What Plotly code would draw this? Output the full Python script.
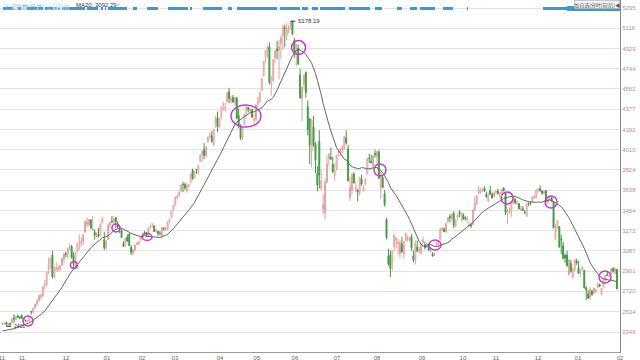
import plotly.graph_objects as go
import pandas as pd

# ---------------- DATA ----------------
# closes of the 19 sessions before the first candle (for the MA20 warm-up)
warmup_closes = [2364, 2382, 2389, 2374, 2366, 2359, 2373, 2356, 2341, 2357,
                 2340, 2327, 2302, 2302, 2290, 2337, 2373, 2392, 2420]

opens = [
 2420,2428,2433,2413,2426,2433,2478,2466,2492,2485,2500,2472,2454,2442,2452,2537,2528,2567,2610,2635,
 2670,2677,2770,2778,2925,2946,3051,2850,2915,2923,2920,2957,3010,3061,3058,3118,3129,3043,2950,3081,3166,3160,3172,
 3258,3330,3326,3371,3276,3259,3223,3242,3228,3343,3189,3114,3189,3323,3357,3356,3390,3330,3264,3273,
 3154,3142,3213,3243,3121,3064,3096,3147,3152,3203,3208,3255,3256,3224,3300,
 3332,3317,3264,3265,3248,3224,3292,3287,3285,3354,3391,3465,3503,3577,3594,3640,3696,3692,3631,3675,3710,3822,
 3748,3827,3803,3899,3963,4010,3948,4085,4124,4135,4054,4232,4301,4218,4305,4412,4386,4442,4537,4455,4483,
 4436,4478,4320,4214,4121,4237,4340,4391,4364,4372,4275,4285,4431,4449,4548,4680,4855,4905,4943,4603,
 4633,4844,4924,4912,4973,5045,5114,5050,5101,5144,5175,5004,4891,4930,4689,4471,4604,4711,4399,4289,3997,
 4214,4058,3794,4085,3654,3467,3433,3707,3924,3940,3875,3773,3842,3976,3979,4004,4013,4118,4016,3573,3638,3786,3643,
 3643,3615,3743,3633,3695,3786,3931,3903,3856,3976,3951,3986,3655,3754,3609,3373,3043,3050,2979,3125,3182,
 3157,3060,3149,3054,3185,3193,3189,3215,3041,2996,3123,3096,3070,3162,3146,3117,3152,3096,3060,3052,
 3144,3141,3194,3272,3284,3257,3357,3404,3384,3429,3310,3388,3440,3413,3413,3388,3375,
 3325,3322,3325,3459,3514,3614,3623,3645,3657,3600,3541,3634,3606,3582,3620,3631,3602,3614,3659,3616,3435,
 3442,3450,3525,3558,3526,3518,3460,3469,3441,3403,3510,3521,3536,3567,3576,3640,3653,3631,3609,3634,3528,3567,3570,
 3536,3196,3292,3309,3194,3134,3046,3050,2868,2974,2843,2915,2993,2934,2904,2919,2911,2747,2698,2656,
 2726,2700,2716,2751,2782,2688,2757,2823,2874,2855,2874,2927,2889,2918]

highs = [
 2434,2434,2445,2428,2437,2479,2512,2495,2509,2494,2508,2478,2461,2460,2490,2540,2568,2605,2650,2684,
 2700,2764,2822,2900,3027,3021,3091,2944,2986,2950,2955,3022,3067,3080,3119,3154,3139,3074,3075,3158,3239,3211,3239,
 3369,3394,3375,3373,3404,3283,3260,3296,3337,3400,3262,3190,3337,3357,3406,3384,3399,3358,3297,3288,
 3176,3205,3238,3244,3140,3105,3141,3165,3178,3229,3250,3269,3259,3300,3326,
 3336,3318,3286,3266,3267,3308,3305,3308,3356,3384,3449,3507,3578,3600,3633,3688,3716,3709,3705,3700,3795,3835,
 3817,3835,3865,3961,4000,4069,4035,4128,4168,4177,4195,4317,4356,4294,4398,4444,4432,4529,4572,4500,4507,
 4489,4488,4384,4241,4205,4333,4402,4402,4390,4383,4330,4417,4488,4529,4658,4814,4911,4958,4986,4682,
 4829,4911,4999,5006,5051,5147,5147,5164,5143,5178,5176,5029,4968,4967,4744,4577,4691,4720,4456,4297,4287,
 4318,4080,3859,4185,3819,3601,3749,3959,3976,4030,3944,3886,3960,4006,4022,4049,4132,4184,4053,3758,3789,3807,3717,
 3643,3757,3782,3685,3750,3934,3970,3960,3955,4008,3994,4006,3811,3774,3641,3388,3107,3092,3085,3233,3207,
 3202,3183,3217,3174,3256,3228,3218,3239,3094,3182,3183,3128,3156,3218,3168,3155,3155,3103,3077,3073,
 3172,3184,3294,3305,3303,3339,3391,3421,3425,3447,3370,3430,3457,3443,3430,3403,3405,
 3350,3336,3461,3586,3596,3678,3660,3654,3676,3628,3607,3679,3617,3617,3640,3654,3617,3647,3668,3621,3470,
 3483,3538,3585,3568,3548,3519,3498,3496,3459,3521,3530,3539,3583,3598,3644,3653,3684,3640,3637,3641,3563,3573,3581,
 3538,3328,3362,3309,3235,3172,3060,3088,3007,3006,2936,3010,3017,2999,2917,2948,2913,2767,2733,2760,
 2726,2750,2741,2797,2790,2746,2837,2868,2898,2870,2927,2939,2929,2923]

lows = [
 2411,2413,2401,2408,2410,2432,2432,2455,2478,2465,2468,2452,2441,2439,2441,2508,2519,2561,2586,2622,
 2641,2662,2736,2768,2875,2921,2834,2840,2900,2896,2910,2955,2976,3030,3015,3093,3017,2931,2940,3074,3095,3124,3140,
 3253,3303,3312,3285,3267,3191,3208,3208,3219,3337,3095,3100,3188,3294,3340,3322,3298,3294,3250,3209,
 3123,3124,3172,3134,3050,3049,3083,3136,3141,3179,3200,3241,3215,3217,3290,
 3298,3260,3250,3224,3234,3198,3273,3267,3276,3339,3385,3448,3495,3557,3576,3623,3622,3643,3617,3658,3705,3733,
 3743,3787,3787,3899,3900,3922,3941,4068,4109,4070,4040,4207,4167,4211,4285,4369,4355,4442,4432,4427,4437,
 4410,4286,4203,4099,4097,4237,4316,4352,4345,4297,4238,4270,4397,4431,4542,4677,4798,4846,4604,4500,
 4633,4798,4833,4648,4836,4915,4941,5005,5065,5103,5048,4846,4767,4780,4476,4265,4552,4483,4139,3876,3847,
 4033,3795,3629,3654,3640,3421,3373,3707,3862,3915,3799,3726,3819,3946,3951,3974,4009,4055,3720,3538,3600,3701,3620,
 3537,3591,3680,3628,3683,3782,3887,3887,3847,3935,3883,3743,3558,3661,3490,3191,2953,2850,2906,3085,3108,
 3053,3019,3066,3011,3172,3168,3173,3090,2983,2963,3074,3060,3053,3162,3102,3115,3087,3068,3038,3039,
 3123,3134,3182,3264,3257,3255,3339,3348,3364,3293,3302,3368,3394,3352,3370,3363,3342,
 3299,3296,3325,3455,3504,3600,3610,3626,3625,3570,3531,3600,3565,3574,3601,3598,3569,3606,3629,3412,3327,
 3421,3395,3510,3511,3505,3466,3448,3450,3422,3397,3495,3504,3536,3560,3566,3617,3626,3599,3607,3532,3516,3538,3538,
 3295,3189,3288,3115,3057,3016,2979,2949,2867,2889,2836,2903,2960,2880,2852,2910,2744,2638,2653,2642,
 2680,2699,2706,2751,2763,2683,2757,2810,2860,2843,2874,2891,2874,2738]

closes = [
 2430,2430,2419,2425,2418,2473,2469,2495,2485,2478,2474,2456,2450,2452,2487,2532,2567,2604,2630,2683,
 2680,2763,2779,2899,2938,3020,2856,2940,2925,2938,2953,3021,3061,3057,3108,3128,3032,2968,3072,3157,3169,3166,3235,
 3351,3352,3374,3294,3285,3229,3235,3222,3336,3376,3116,3173,3323,3343,3351,3383,3352,3305,3262,3210,
 3128,3204,3174,3136,3076,3095,3141,3157,3173,3203,3247,3246,3229,3298,3310,
 3336,3263,3280,3248,3241,3302,3286,3290,3349,3373,3449,3503,3577,3582,3617,3687,3692,3660,3682,3691,3786,3748,
 3810,3825,3863,3961,3994,3957,4034,4121,4135,4084,4194,4287,4217,4293,4398,4414,4393,4527,4476,4476,4441,
 4480,4298,4229,4112,4205,4333,4401,4375,4378,4308,4283,4417,4446,4529,4657,4813,4910,4941,4620,4611,
 4828,4910,4909,4947,5023,5131,5113,5106,5121,5166,5062,4887,4967,4786,4478,4577,4691,4527,4193,4053,4277,
 4054,3912,3687,3776,3727,3507,3710,3878,3970,3924,3805,3823,3958,3992,4017,4027,4124,4071,3726,3663,3789,3705,3664,
 3623,3757,3695,3661,3744,3928,3928,3887,3955,3965,3993,3748,3794,3665,3508,3210,2965,2927,3084,3232,3206,
 3166,3160,3080,3171,3243,3198,3200,3114,3005,3152,3086,3098,3156,3186,3116,3142,3093,3101,3039,3053,
 3144,3183,3288,3294,3263,3338,3391,3387,3425,3320,3369,3412,3430,3434,3375,3387,3383,
 3326,3316,3460,3522,3590,3646,3640,3650,3632,3580,3607,3604,3568,3617,3630,3610,3616,3647,3635,3436,3445,
 3456,3537,3584,3525,3536,3470,3472,3455,3434,3521,3510,3516,3580,3578,3642,3651,3636,3612,3627,3533,3563,3573,3539,
 3297,3288,3361,3125,3186,3017,3022,2949,3007,2901,2913,3008,2977,2881,2916,2938,2750,2735,2656,2738,
 2689,2750,2739,2782,2763,2746,2836,2867,2863,2860,2927,2903,2928,2742]

month_labels = ["11", "11", "12", "01", "02", "03", "04", "05", "06", "07",
                "08", "09", "10", "11", "12", "01", "02"]
price_labels = [2349, 2534, 2720, 2901, 3087, 3272, 3454, 3638, 3824, 4010,
                4192, 4377, 4562, 4744, 4929, 5116, 5295]

# highlighted points on the MA line (session index, price)
mark_days = [13.3, 37.2, 59.1, 75.3, 126.8, 154.2, 196.6, 225.3, 262.8, 285.7, 313.8]
mark_prices = [2449, 2959, 3296, 3214, 4315, 4938, 3823, 3141, 3569, 3532, 2850]

peak_day, peak_price, peak_text = 150, 5178.19, "5178.19"
low_day, low_price, low_text = 2, 2401, "2401"

# ---------------- LAYOUT / STYLE ----------------
month_tick_pos = [-0.3, 10.2, 33.1, 54.4, 72.7, 89.8, 113.3, 132.5, 152.3, 174.2,
                  195.1, 218.5, 239.8, 257.0, 278.9, 299.7, 321.6]
mark_rx = [5, 3.5, 4, 5, 15, 7, 6, 6, 6, 6, 6]
mark_ry = [5, 3.5, 4, 3.5, 11, 7, 6, 5, 6, 6, 6]
# decorative signal strip on top (pixel ranges of the plot width 620)
strip_segments = [(3, 13), (18, 21), (27, 37), (38, 43), (45, 53), (54, 57), (58, 60), (62, 85),
                  (87, 98), (101, 103), (105, 106), (108, 127), (133, 137), (147, 158), (168, 188),
                  (190, 192), (203, 222), (228, 232), (237, 277), (280, 300), (302, 308), (312, 318),
                  (320, 345), (349, 370), (375, 382), (397, 402), (410, 417), (420, 435), (443, 453),
                  (467, 468), (543, 567)]

n = len(closes)
xs = list(range(n))
ma20 = pd.Series(warmup_closes + closes).rolling(20).mean().iloc[len(warmup_closes):].tolist()

fig = go.Figure()
fig.add_trace(go.Candlestick(
    x=xs, open=opens, high=highs, low=lows, close=closes,
    increasing=dict(line=dict(color="#e6a0a0", width=1), fillcolor="rgba(255,255,255,1)"),
    decreasing=dict(line=dict(color="#3f9c42", width=1), fillcolor="#3f9c42"),
    whiskerwidth=0, showlegend=False, hoverinfo="skip"))
fig.add_trace(go.Scatter(x=xs, y=ma20, mode="lines",
                         line=dict(color="#555555", width=0.9), showlegend=False, hoverinfo="skip"))

shapes = []
for d, p, rx, ry in zip(mark_days, mark_prices, mark_rx, mark_ry):
    shapes.append(dict(type="circle", xref="x", yref="y", xsizemode="pixel", ysizemode="pixel",
                       xanchor=d, yanchor=p, x0=-rx, x1=rx, y0=-ry, y1=ry,
                       line=dict(color="#c13fc6", width=1.5)))
W = 620.0
for a, b in strip_segments:
    shapes.append(dict(type="rect", xref="paper", yref="paper", x0=a / W, x1=b / W,
                       y0=1 - 10 / 352, y1=1 - 7 / 352, line=dict(width=0), fillcolor="#3d9bc8"))
shapes.append(dict(type="rect", xref="paper", yref="paper", x0=567 / W, x1=1.0,
                   y0=1 - 11 / 352, y1=1 - 6 / 352, line=dict(width=0), fillcolor="#3d9bc8"))
# pointer lines for the extreme labels
shapes.append(dict(type="line", xref="x", yref="y", x0=peak_day, x1=peak_day + 2.5,
                   y0=peak_price, y1=peak_price, line=dict(color="#333", width=1)))
shapes.append(dict(type="line", xref="x", yref="y", x0=low_day, x1=low_day + 2.5,
                   y0=low_price, y1=low_price, line=dict(color="#333", width=1)))

annotations = [
    dict(x=peak_day + 2.7, y=peak_price, xref="x", yref="y", text=peak_text, showarrow=False,
         xanchor="left", yanchor="middle", font=dict(size=6, color="#333", family="Liberation Sans")),
    dict(x=low_day + 2.7, y=low_price, xref="x", yref="y", text=low_text, showarrow=False,
         xanchor="left", yanchor="middle", font=dict(size=5, color="#333", family="Liberation Sans")),
    dict(x=0.003, y=1.0, xref="paper", yref="paper", text="上证指数(日线)", showarrow=False,
         xanchor="left", yanchor="top", font=dict(size=6, color="#7fb3d5", family="Noto Sans CJK SC")),
    dict(x=44 / W, y=1.0, xref="paper", yref="paper", text="上证指数", showarrow=False,
         xanchor="left", yanchor="top", font=dict(size=6, color="#c8d8e8", family="Noto Sans CJK SC")),
    dict(x=74 / W, y=1.0, xref="paper", yref="paper", text="MA20: 3092.29↑", showarrow=False,
         xanchor="left", yanchor="top", font=dict(size=6, color="#335", family="Liberation Sans")),
    dict(x=1.0, y=1.0, xref="paper", yref="paper",
         text="加自选|分时|前|后|◀", showarrow=False, xanchor="right", yanchor="top",
         font=dict(size=5, color="#555", family="Noto Sans CJK SC"),
         bgcolor="#f4f4f4", bordercolor="#999", borderwidth=0.5, borderpad=0),
]

fig.update_layout(
    width=640, height=360, margin=dict(l=0, r=20, t=0, b=8),
    paper_bgcolor="white", plot_bgcolor="white",
    shapes=shapes, annotations=annotations,
    xaxis=dict(range=[-1.3, 321.6], rangeslider=dict(visible=False), showgrid=False, zeroline=False,
               tickmode="array", tickvals=month_tick_pos, ticktext=month_labels, ticks="",
               ticklabeloverflow="allow",
               tickfont=dict(size=6, color="#666", family="Liberation Sans"),
               showline=True, linecolor="#999", linewidth=1),
    yaxis=dict(range=[2167, 5371], side="right", tickmode="array", tickvals=price_labels,
               ticktext=[str(v) for v in price_labels], ticks="",
               tickfont=dict(size=6, color="#c08a8a", family="Liberation Sans"),
               showgrid=True, gridcolor="#e3e3e3", gridwidth=1, zeroline=False,
               showline=True, linecolor="#888", linewidth=1),
    font=dict(family="Liberation Sans"),
)
fig.write_html("out.html")
